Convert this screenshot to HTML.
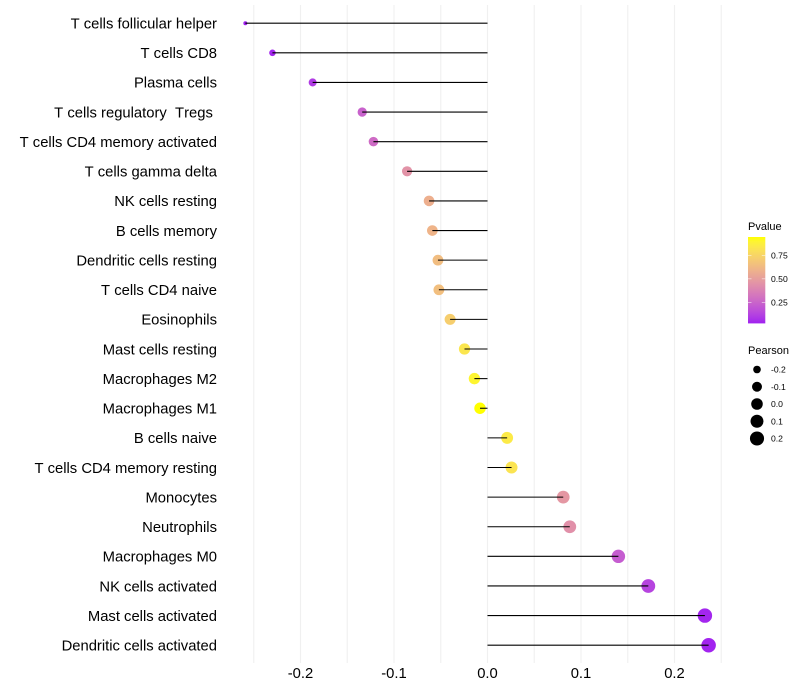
<!DOCTYPE html>
<html>
<head>
<meta charset="utf-8">
<style>
html,body{margin:0;padding:0;background:#fff}
svg{display:block}
text{font-family:"Liberation Sans",sans-serif;white-space:pre;font-kerning:none;text-rendering:optimizeSpeed}
</style>
</head>
<body>
<svg id="chart" xmlns="http://www.w3.org/2000/svg" width="800" height="700" viewBox="0 0 800 700">
  <defs>
    <linearGradient id="pvalue-gradient" x1="0" y1="1" x2="0" y2="0"></linearGradient>
  </defs>
  <rect width="800" height="700" fill="#ffffff"></rect>
  <g id="grid"></g>
  <g id="segments"></g>
  <g id="ylabels"></g>
  <g id="xlabels"></g>
  <g id="legend-p">
    <text x="748" y="230" font-size="11" fill="#000">Pvalue</text>
    <rect x="748" y="237" width="17.3" height="86.4" fill="url(#pvalue-gradient)"></rect>
  </g>
  <g id="legend-s">
    <text x="748" y="354" font-size="11" fill="#000">Pearson</text>
  </g>
</svg>
<script>
const categories = ["T cells follicular helper","T cells CD8","Plasma cells","T cells regulatory  Tregs ","T cells CD4 memory activated","T cells gamma delta","NK cells resting","B cells memory","Dendritic cells resting","T cells CD4 naive","Eosinophils","Mast cells resting","Macrophages M2","Macrophages M1","B cells naive","T cells CD4 memory resting","Monocytes","Neutrophils","Macrophages M0","NK cells activated","Mast cells activated","Dendritic cells activated"];
const pearson = [-0.259,-0.23,-0.187,-0.134,-0.122,-0.086,-0.0625,-0.059,-0.053,-0.052,-0.04,-0.0246,-0.014,-0.008,0.021,0.0257,0.081,0.088,0.14,0.172,0.2325,0.2365];
const pvalues = [0.02,0.04,0.1,0.24,0.28,0.45,0.58,0.6,0.64,0.65,0.72,0.83,0.9,0.945,0.85,0.82,0.47,0.44,0.22,0.13,0.04,0.035];
const xTicks = [-0.2,-0.1,0.0,0.1,0.2];
const xMinorTicks = [-0.25,-0.15,-0.05,0.05,0.15,0.25];
const pTicks = [0.25,0.5,0.75];
const sizeTicks = [-0.2,-0.1,0.0,0.1,0.2];

const NS = "http://www.w3.org/2000/svg";
const x = v => 487.5 + v * 935;
const y = i => 23.2 + i * (622 / 21);
const pMin = 0.027, pMax = 0.945;
const barY = p => 323.4 - (p - pMin) / (pMax - pMin) * 86.4;

function rgb2lab(c){
  const f = c.map(v => { v /= 255; return v > 0.04045 ? Math.pow((v + 0.055) / 1.055, 2.4) : v / 12.92; });
  const X = (0.4124 * f[0] + 0.3576 * f[1] + 0.1805 * f[2]) / 0.95047;
  const Y = 0.2126 * f[0] + 0.7152 * f[1] + 0.0722 * f[2];
  const Z = (0.0193 * f[0] + 0.1192 * f[1] + 0.9505 * f[2]) / 1.08883;
  const g = t => t > 0.008856 ? Math.cbrt(t) : 7.787 * t + 16 / 116;
  return [116 * g(Y) - 16, 500 * (g(X) - g(Y)), 200 * (g(Y) - g(Z))];
}
function lab2rgb(l){
  const fy = (l[0] + 16) / 116, fx = fy + l[1] / 500, fz = fy - l[2] / 200;
  const g = t => t * t * t > 0.008856 ? t * t * t : (t - 16 / 116) / 7.787;
  const X = g(fx) * 0.95047, Y = g(fy), Z = g(fz) * 1.08883;
  const r = [3.2406 * X - 1.5372 * Y - 0.4986 * Z, -0.9689 * X + 1.8758 * Y + 0.0415 * Z, 0.0557 * X - 0.204 * Y + 1.057 * Z];
  return r.map(v => {
    v = v > 0.0031308 ? 1.055 * Math.pow(v, 1 / 2.4) - 0.055 : 12.92 * v;
    return Math.max(0, Math.min(255, Math.round(v * 255)));
  });
}
const labLow = rgb2lab([160, 32, 240]), labHigh = rgb2lab([255, 255, 0]);
function color(p){
  const t = Math.max(0, Math.min(1, (p - pMin) / (pMax - pMin)));
  const c = lab2rgb(labLow.map((v, i) => v + (labHigh[i] - v) * t));
  return "rgb(" + c.join(",") + ")";
}
const rMin = Math.min(...pearson), rMax = Math.max(...pearson);
const diameter = r => 4 + 10.5 * Math.sqrt(Math.max(0, (r - rMin) / (rMax - rMin)));

function make(tag, attrs, parent, txt){
  const el = document.createElementNS(NS, tag);
  for (const k in attrs) el.setAttribute(k, attrs[k]);
  if (txt !== undefined) el.textContent = txt;
  parent.appendChild(el);
  return el;
}

const grid = document.getElementById("grid");
xMinorTicks.concat(xTicks).forEach(t => {
  const el = make("line", {x1: x(t), x2: x(t), y1: 5, y2: 663, stroke: "#f0f0f0", "stroke-width": 1.07}, grid);
  
  
});

const seg = document.getElementById("segments");
const yl = document.getElementById("ylabels");
categories.forEach((c, i) => {
  const pt = make("circle", {cx: x(pearson[i]), cy: y(i), r: diameter(pearson[i]) / 2, fill: color(pvalues[i])}, seg);
  
  
  const ln = make("line", {x1: x(0), x2: x(pearson[i]), y1: y(i), y2: y(i), stroke: "#000", "stroke-width": 1.07}, seg);
  
  
  const tx = make("text", {x: 217, y: y(i) + 5.3, "text-anchor": "end", "font-size": 14.8, fill: "#000"}, yl, c);
  
  
});

const xl = document.getElementById("xlabels");
xTicks.forEach(t => {
  const tx = make("text", {x: x(t), y: 678, "text-anchor": "middle", "font-size": 14.8, fill: "#000"}, xl, t.toFixed(1));
  
  
});

const grad = document.getElementById("pvalue-gradient");
for (let k = 0; k <= 20; k++) {
  make("stop", {offset: (k * 5) + "%", "stop-color": color(pMin + (pMax - pMin) * k / 20)}, grad);
}

const lp = document.getElementById("legend-p");
pTicks.forEach(t => {
  const a = make("line", {x1: 748, x2: 751.5, y1: barY(t), y2: barY(t), stroke: "#fff", "stroke-width": 0.5}, lp);
  
  
  const b = make("line", {x1: 761.8, x2: 765.3, y1: barY(t), y2: barY(t), stroke: "#fff", "stroke-width": 0.5}, lp);
  
  
  const tx = make("text", {x: 771, y: barY(t) + 3.1, "font-size": 8.6, fill: "#000"}, lp, t.toFixed(2));
  
  
});

const ls = document.getElementById("legend-s");
sizeTicks.forEach((t, i) => {
  const cy = 369.5 + i * 17.25;
  const c = make("circle", {cx: 757, cy: cy, r: diameter(t) / 2, fill: "#000"}, ls);
  
  
  const tx = make("text", {x: 771, y: cy + 3.1, "font-size": 8.6, fill: "#000"}, ls, t.toFixed(1));
  
  
});
</script>
</body>
</html>
